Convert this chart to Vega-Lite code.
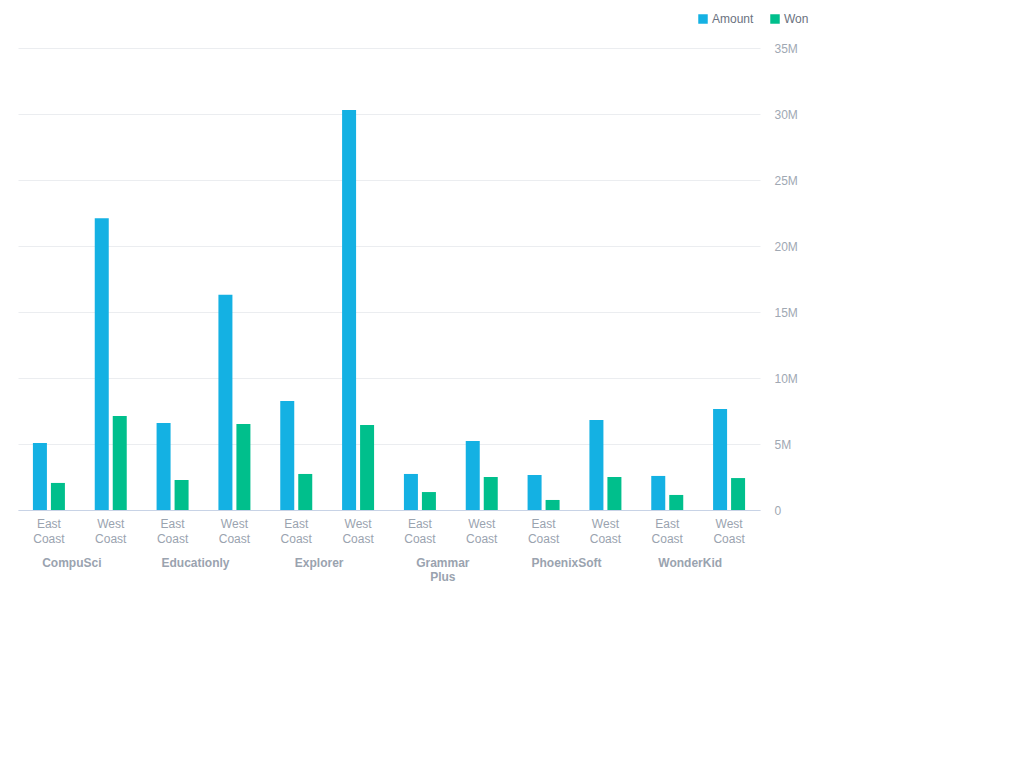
{
  "$schema": "https://vega.github.io/schema/vega-lite/v6.json",
  "width": 742,
  "height": 462,
  "autosize": {"type": "none"},
  "padding": {"left": 18, "top": 48, "right": 264, "bottom": 258},
  "config": {
    "font": "Liberation Sans",
    "view": {"stroke": null},
    "axis": {"labelFont": "Liberation Sans"}
  },
  "data": {
    "values": [
      {"company": "CompuSci", "key": "CompuSci|East Coast", "series": "Amount", "value": 5.08},
      {"company": "CompuSci", "key": "CompuSci|East Coast", "series": "Won", "value": 2.05},
      {"company": "CompuSci", "key": "CompuSci|West Coast", "series": "Amount", "value": 22.1},
      {"company": "CompuSci", "key": "CompuSci|West Coast", "series": "Won", "value": 7.12},
      {"company": "Educationly", "key": "Educationly|East Coast", "series": "Amount", "value": 6.6},
      {"company": "Educationly", "key": "Educationly|East Coast", "series": "Won", "value": 2.27},
      {"company": "Educationly", "key": "Educationly|West Coast", "series": "Amount", "value": 16.3},
      {"company": "Educationly", "key": "Educationly|West Coast", "series": "Won", "value": 6.52},
      {"company": "Explorer", "key": "Explorer|East Coast", "series": "Amount", "value": 8.26},
      {"company": "Explorer", "key": "Explorer|East Coast", "series": "Won", "value": 2.73},
      {"company": "Explorer", "key": "Explorer|West Coast", "series": "Amount", "value": 30.3},
      {"company": "Explorer", "key": "Explorer|West Coast", "series": "Won", "value": 6.44},
      {"company": "Grammar Plus", "key": "Grammar Plus|East Coast", "series": "Amount", "value": 2.73},
      {"company": "Grammar Plus", "key": "Grammar Plus|East Coast", "series": "Won", "value": 1.36},
      {"company": "Grammar Plus", "key": "Grammar Plus|West Coast", "series": "Amount", "value": 5.23},
      {"company": "Grammar Plus", "key": "Grammar Plus|West Coast", "series": "Won", "value": 2.5},
      {"company": "PhoenixSoft", "key": "PhoenixSoft|East Coast", "series": "Amount", "value": 2.65},
      {"company": "PhoenixSoft", "key": "PhoenixSoft|East Coast", "series": "Won", "value": 0.76},
      {"company": "PhoenixSoft", "key": "PhoenixSoft|West Coast", "series": "Amount", "value": 6.82},
      {"company": "PhoenixSoft", "key": "PhoenixSoft|West Coast", "series": "Won", "value": 2.5},
      {"company": "WonderKid", "key": "WonderKid|East Coast", "series": "Amount", "value": 2.58},
      {"company": "WonderKid", "key": "WonderKid|East Coast", "series": "Won", "value": 1.14},
      {"company": "WonderKid", "key": "WonderKid|West Coast", "series": "Amount", "value": 7.65},
      {"company": "WonderKid", "key": "WonderKid|West Coast", "series": "Won", "value": 2.42}
    ]
  },
  "transform": [{"calculate": "datum.value * 1000000", "as": "amount"}],
  "layer": [
    {
      "mark": {"type": "bar"},
      "encoding": {
        "x": {
          "field": "key",
          "type": "nominal",
          "sort": null,
          "scale": {"paddingInner": 0, "paddingOuter": 0},
          "axis": {
            "title": null,
            "labelAngle": 0,
            "ticks": false,
            "domainColor": "#c8d3e6",
            "labelColor": "#9aa3af",
            "labelFontSize": 12,
            "labelLineHeight": 15,
            "labelPadding": 8,
            "labelExpr": "split(split(datum.label, '|')[1], ' ')"
          }
        },
        "xOffset": {
          "field": "series",
          "type": "nominal",
          "scale": {"paddingInner": 0.222, "paddingOuter": 0.829}
        },
        "y": {
          "field": "amount",
          "type": "quantitative",
          "scale": {"domain": [0, 35000000]},
          "axis": {
            "orient": "right",
            "title": null,
            "values": [0, 5000000, 10000000, 15000000, 20000000, 25000000, 30000000, 35000000],
            "labelExpr": "datum.value == 0 ? '0' : (datum.value / 1000000) + 'M'",
            "ticks": false,
            "domain": false,
            "gridColor": "#ebedf0",
            "labelColor": "#a0a8b3",
            "labelFontSize": 12,
            "labelPadding": 14
          }
        },
        "color": {
          "field": "series",
          "type": "nominal",
          "scale": {"domain": ["Amount", "Won"], "range": ["#14b1e3", "#00bf8c"]},
          "legend": {
            "title": null,
            "orient": "none",
            "direction": "horizontal",
            "legendX": 679,
            "legendY": -35,
            "symbolType": "square",
            "symbolSize": 90,
            "symbolStrokeWidth": 0,
            "labelColor": "#6b7280",
            "labelFontSize": 12,
            "columnPadding": 15,
            "labelOffset": 3
          }
        }
      }
    },
    {
      "mark": {"type": "tick", "opacity": 0},
      "encoding": {
        "x": {
          "field": "company",
          "type": "nominal",
          "sort": null,
          "scale": {"paddingInner": 0, "paddingOuter": 0},
          "axis": {
            "title": null,
            "orient": "bottom",
            "labelAngle": 0,
            "ticks": false,
            "domain": false,
            "labelColor": "#9aa3af",
            "labelFontSize": 12,
            "labelFontWeight": "bold",
            "labelLineHeight": 14,
            "labelPadding": 47,
            "labelOffset": -8,
            "labelExpr": "split(datum.label, ' ')"
          }
        },
        "y": {"datum": 0, "type": "quantitative"}
      }
    }
  ],
  "resolve": {"scale": {"x": "independent"}}
}
